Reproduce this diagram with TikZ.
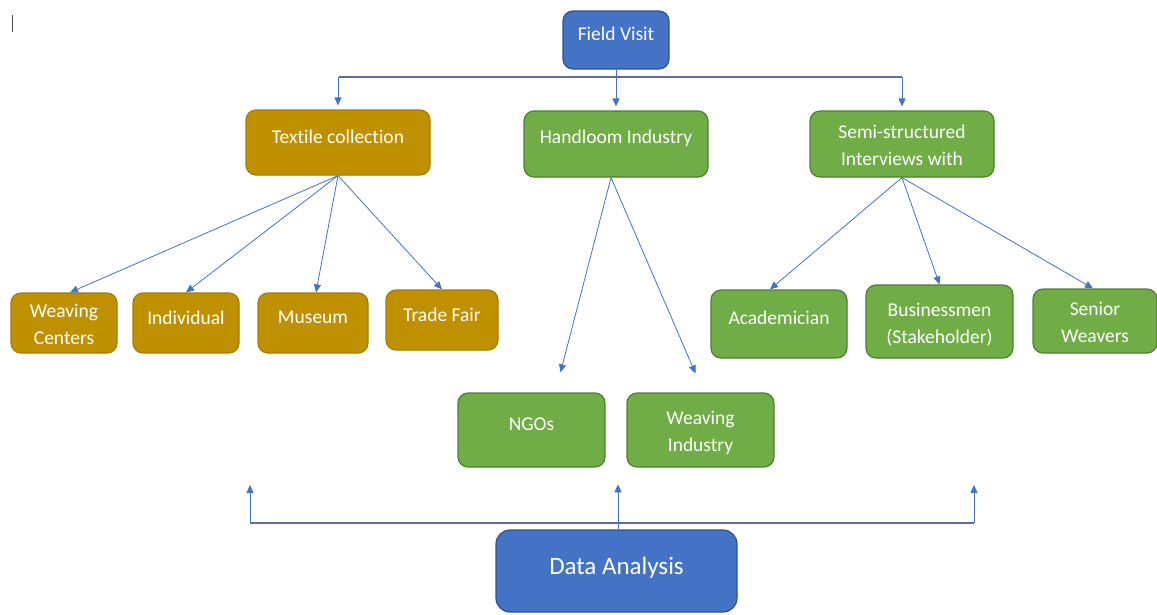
\documentclass[tikz,border=0pt]{standalone}
\usepackage{fontspec}
\setmainfont{Carlito}[Ligatures=NoCommon]
\usetikzlibrary{arrows.meta,calc}
\definecolor{fvblue}{HTML}{4472C4}
\definecolor{fvedge}{HTML}{2F528F}
\definecolor{gold}{HTML}{BF9000}
\definecolor{goldedge}{HTML}{A67D00}
\definecolor{leaf}{HTML}{70AD47}
\definecolor{leafedge}{HTML}{507E32}
\definecolor{busline}{HTML}{5B6E94}
% lift a single line of text inside its box without changing the box size
\newcommand\liftup[2][5.5pt]{\raisebox{#1}[\height][\depth]{#2}}
% two centred lines, set a little lower in their box
\newcommand\twolines[2]{\raisebox{-3pt}[\height][\depth]{\begin{tabular}{@{}c@{}}#1\\[1pt]#2\end{tabular}}}
\tikzset{
  box/.style={rounded corners=10pt, inner sep=0pt, text=white, align=center,
    font=\fontsize{19.5}{26}\selectfont, line width=1.2pt},
  bluebox/.style={box, fill=fvblue, draw=fvedge},
  goldbox/.style={box, fill=gold, draw=goldedge},
  greenbox/.style={box, fill=leaf, draw=leafedge},
  arr/.style={draw=fvblue, line width=0.8pt, -{Triangle[length=8pt,width=7pt]}},
  bus/.style={draw=busline, line width=1.5pt},
}
\begin{document}
\begin{tikzpicture}[x=1pt, y=-1pt]
\clip (0,0) rectangle (1157,614);
\fill[white] (0,0) rectangle (1157,614);
% text cursor at the left margin
\draw[gray!60!black, line width=1pt] (12,15) -- (12,32);

% top level
\node[bluebox, minimum width=106pt, minimum height=58pt] (fv) at (616,40) {\liftup[6pt]{Field Visit}};

% second level
\node[goldbox, minimum width=184pt, minimum height=65pt] (tc) at (338,142.5) {\liftup{Textile collection}};
\node[greenbox, minimum width=184pt, minimum height=66pt] (hl) at (616,144) {\liftup[6pt]{Handloom Industry}};
\node[greenbox, minimum width=184pt, minimum height=66pt] (sem) at (902,144) {\twolines{Semi-structured}{Interviews with}};

% textile sources
\node[goldbox, minimum width=106pt, minimum height=60pt] (wc) at (64,323) {\twolines{Weaving}{Centers}};
\node[goldbox, minimum width=106pt, minimum height=60pt] (ind) at (186,323) {\liftup{Individual}};
\node[goldbox, minimum width=110pt, minimum height=60pt] (mus) at (313,323) {\liftup{Museum}};
\node[goldbox, minimum width=112pt, minimum height=60pt] (tf) at (442,320) {\liftup{Trade Fair}};

% handloom industry
\node[greenbox, minimum width=147pt, minimum height=74pt] (ngo) at (531.5,430) {\liftup{NGOs}};
\node[greenbox, minimum width=147pt, minimum height=74pt] (wi) at (700.5,430) {\twolines{Weaving}{Industry}};

% interviewees
\node[greenbox, minimum width=136pt, minimum height=68pt] (aca) at (779,324) {\liftup[6pt]{Academician}};
\node[greenbox, minimum width=147pt, minimum height=73pt] (bsm) at (939.5,321.5) {\twolines{Businessmen}{(Stakeholder)}};
\node[greenbox, minimum width=124pt, minimum height=64pt] (sen) at (1095,321) {\twolines{Senior}{Weavers}};

% analysis
\node[bluebox, rounded corners=14pt, minimum width=241pt, minimum height=82pt,
  font=\fontsize{25}{30}\selectfont] (da) at (616.5,571) {\liftup[3pt]{Data Analysis}};

% distribution bus below Field Visit
\coordinate (busTL) at (339,77);
\coordinate (busTR) at (902,77);
\draw[bus] (busTL) -- (busTR);
\draw[bus, draw=fvblue, line width=0.8pt] (fv.south) -- (fv.south |- busTL);
\draw[arr, shorten >=4pt] (tc.north |- busTL) -- (tc.north);
\draw[arr, shorten >=4pt] (fv.south |- busTL) -- (hl.north);
\draw[arr, shorten >=4pt] (busTR) -- (sem.north);

% fan-out arrows
\draw[arr] (tc.south) -- ([xshift=6pt]wc.north);
\draw[arr] (tc.south) -- (ind.north);
\draw[arr] (tc.south) -- ([xshift=3pt]mus.north);
\draw[arr] (tc.south) -- (tf.north);
\draw[arr] ([xshift=-5pt]hl.south) -- ($(ngo.north)+(29,-20)$);
\draw[arr] ([xshift=-5pt]hl.south) -- ($(wi.north)+(-5,-19)$);
\draw[arr] (sem.south) -- ([xshift=-9pt]aca.north);
\draw[arr] (sem.south) -- (bsm.north);
\draw[arr] (sem.south) -- ([xshift=-2pt]sen.north);

% feedback bus above Data Analysis
\coordinate (busBL) at (250,523);
\coordinate (busBR) at (974,523);
\draw[bus] (busBL) -- (busBR);
\draw[arr] (busBL) -- ++(0,-38);
\draw[arr] ([xshift=1.5pt]da.north) -- ++(0,-45);
\draw[arr] (busBR) -- ++(0,-38);
\end{tikzpicture}
\end{document}
